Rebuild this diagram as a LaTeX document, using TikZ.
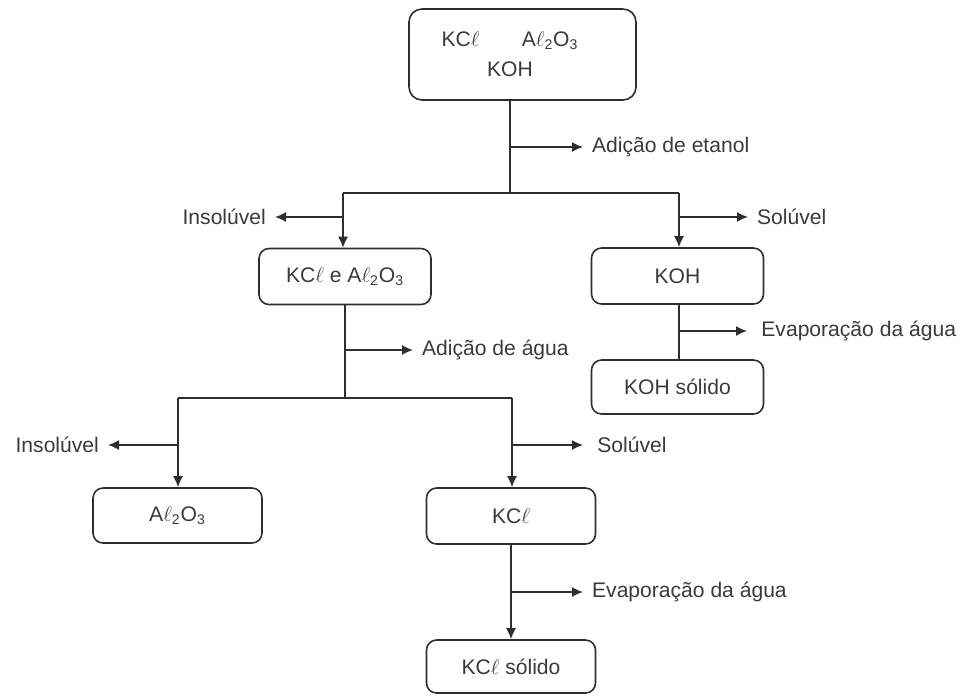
\documentclass[tikz,border=0pt]{standalone}
\usepackage{fontspec}
\setmainfont{Liberation Sans}
\usetikzlibrary{arrows.meta}
\definecolor{lineGray}{HTML}{2E2E2E}
\definecolor{textGray}{HTML}{3A3A3A}
\newcommand{\kcl}{KC$\ell$}
\newcommand{\alox}{A$\ell$\textsubscript{2}O\textsubscript{3}}

\begin{document}
\begin{tikzpicture}[font=\fontsize{12}{14}\selectfont, text=textGray,
      bx/.style={draw=lineGray, line width=0.9pt, rounded corners=2mm,
        minimum width=3.44cm, minimum height=1.12cm, inner sep=0pt},
      lbl/.style={inner xsep=5pt, inner ysep=2pt},
      ln/.style={draw=lineGray, line width=0.9pt},
      arr/.style={ln, -{Latex[length=2.2mm, width=2mm]}}]
    \useasboundingbox (0,0) rectangle (19.22,-13.9);
    % boxes
    \node[bx, minimum width=4.54cm, minimum height=1.82cm, rounded corners=2.6mm, align=center]
      (mix0) at (10.45,-1.09) {\kcl\hspace{2em}\alox\hspace*{0.5cm}\\[3pt]KOH\hspace*{0.5cm}};
    \node[bx] (mix) at (6.9,-5.53) {\kcl{} e \alox};
    \node[bx] (koh) at (13.55,-5.52) {KOH};
    \node[bx, minimum height=1.08cm] (kohs) at (13.55,-7.74) {KOH sólido};
    \node[bx, minimum width=3.38cm, minimum height=1.1cm] (al) at (3.55,-10.31) {\alox};
    \node[bx, minimum width=3.38cm] (kcl) at (10.22,-10.32) {\kcl};
    \node[bx, minimum width=3.38cm, minimum height=1.06cm] (kcls) at (10.22,-13.33) {\kcl{} sólido};
    % labels
    \node[lbl, anchor=west] (etanol) at (11.66,-2.94) {Adição de etanol};
    \node[lbl, anchor=east] (ins1) at (5.5,-4.34) {Insolúvel};
    \node[lbl, anchor=west] (sol1) at (14.96,-4.34) {Solúvel};
    \node[lbl, anchor=west, inner xsep=8pt] (evap1) at (14.94,-6.62) {Evaporação da água};
    \node[lbl, anchor=west] (agua) at (8.26,-7.0) {Adição de água};
    \node[lbl, anchor=east] (ins2) at (2.16,-8.9) {Insolúvel};
    \node[lbl, anchor=west, inner xsep=8pt] (sol2) at (11.66,-8.9) {Solúvel};
    \node[lbl, anchor=west] (evap2) at (11.66,-11.84) {Evaporação da água};
    % first separation
    \coordinate (j0) at (10.2,-3.86);
    \coordinate (bl) at (6.86,-3.86);
    \coordinate (br) at (13.58,-3.86);
    \draw[ln] (mix0.south -| j0) -- (j0);
    \draw[arr] (etanol -| j0) -- (etanol.west);
    \draw[ln] (bl) -- (br);
    \draw[arr] (bl) -- (bl |- mix.north);
    \draw[arr] (br) -- (br |- koh.north);
    \draw[arr] (ins1 -| bl) -- (ins1.east);
    \draw[arr] (sol1 -| br) -- (sol1.west);
    \draw[ln] (koh.south -| br) -- (kohs.north -| br);
    \draw[arr] (evap1 -| br) -- (evap1.west);
    % second separation
    \coordinate (j1) at (6.9,-7.96);
    \coordinate (cl) at (3.56,-7.96);
    \coordinate (cr) at (10.24,-7.96);
    \draw[ln] (mix.south) -- (j1);
    \draw[arr] (agua -| j1) -- (agua.west);
    \draw[ln] (cl) -- (cr);
    \draw[arr] (cl) -- (cl |- al.north);
    \draw[arr] (cr) -- (cr |- kcl.north);
    \draw[arr] (ins2 -| cl) -- (ins2.east);
    \draw[arr] (sol2 -| cr) -- (sol2.west);
    \draw[arr] (kcl) -- (kcls);
    \draw[arr] (evap2 -| kcl) -- (evap2.west);
  \end{tikzpicture}
\end{document}
